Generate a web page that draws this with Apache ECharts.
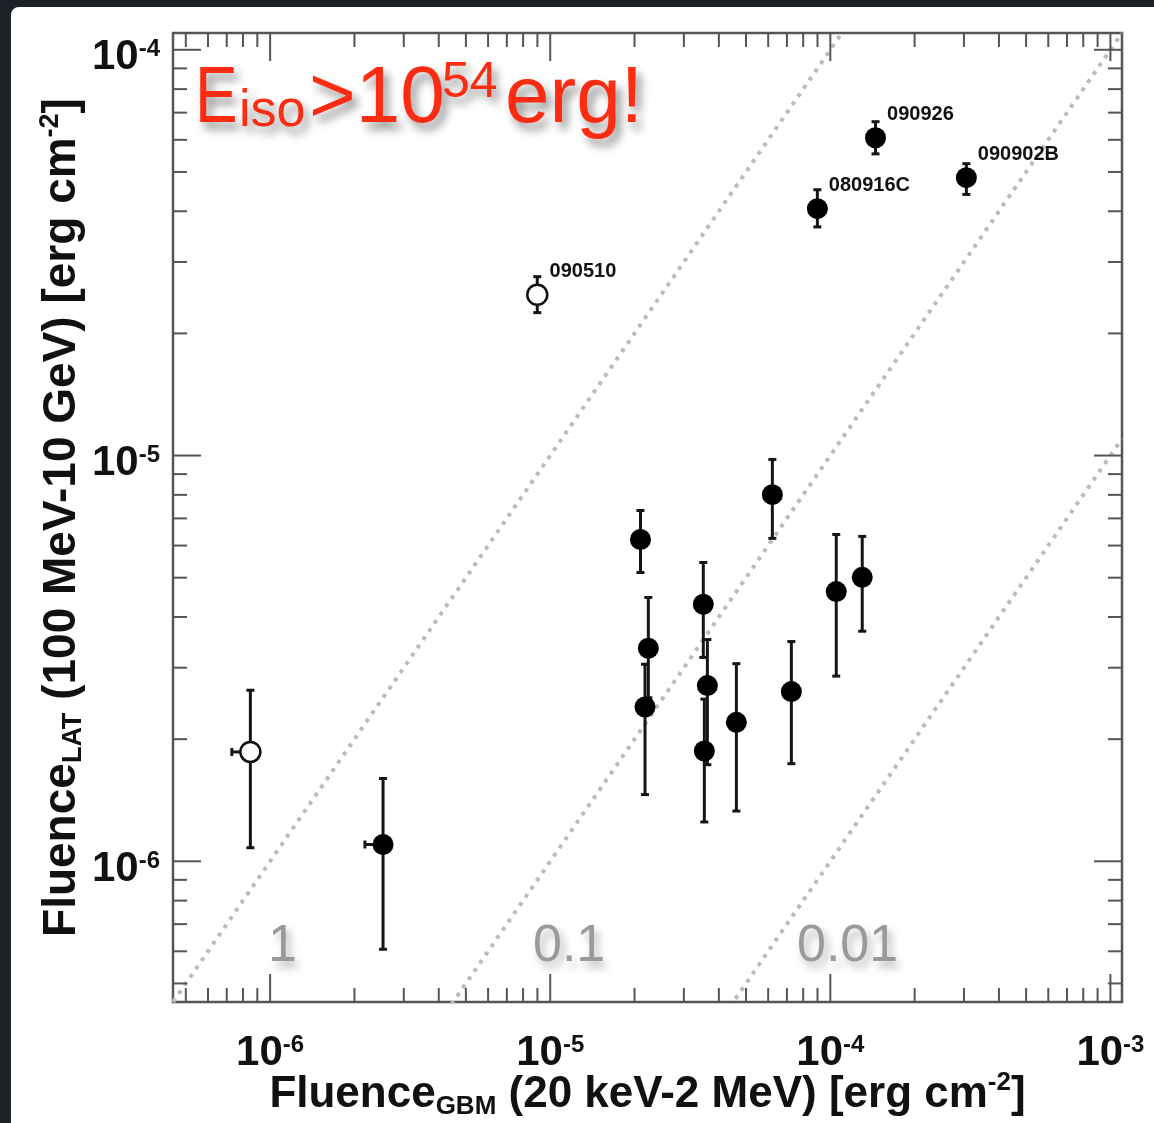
<!DOCTYPE html>
<html><head><meta charset="utf-8">
<script src="https://cdn.jsdelivr.net/npm/echarts@6/dist/echarts.min.js"></script>
<style>
html,body{margin:0;padding:0;width:1154px;height:1123px;overflow:hidden;background:#1d2228;}
#panel{position:absolute;left:11px;top:7px;width:1143px;height:1116px;background:#fff;border-top-left-radius:8px;}
#chart{position:absolute;left:0;top:0;width:1154px;height:1123px;}
</style></head><body>
<div id="panel"></div><div id="chart"></div>
<script>
// axis extents
const X_MIN = 4.5e-7, X_MAX = 1.1e-3, Y_MIN = 4.5e-7, Y_MAX = 1.1e-4;

// GRB data
const grbNames      = ['', '', '090510', '080916C', '090926', '090902B', '', '', '', '', '', '', '', '', '', '', ''];
const isShortGrb    = [true, false, true, false, false, false, false, false, false, false, false, false, false, false, false, false, false];
const gbmFluence    = [8.5e-7, 2.53e-6, 8.99e-6, 8.99e-5, 1.45e-4, 3.06e-4, 2.10e-5, 2.24e-5, 2.18e-5, 3.52e-5, 3.64e-5, 3.55e-5, 4.62e-5, 6.21e-5, 7.26e-5, 1.05e-4, 1.30e-4];
const gbmFluenceLow = [7.3e-7, 2.18e-6, null, null, null, null, null, null, null, null, null, null, null, null, null, null, null];
const latFluence    = [1.86e-6, 1.10e-6, 2.49e-5, 4.06e-5, 6.07e-5, 4.84e-5, 6.21e-6, 3.35e-6, 2.40e-6, 4.30e-6, 2.71e-6, 1.87e-6, 2.20e-6, 8.01e-6, 2.62e-6, 4.62e-6, 5.01e-6];
const latLow        = [1.08e-6, 6.07e-7, 2.25e-5, 3.66e-5, 5.54e-5, 4.40e-5, 5.15e-6, 2.53e-6, 1.46e-6, 3.18e-6, 1.73e-6, 1.25e-6, 1.33e-6, 6.25e-6, 1.74e-6, 2.86e-6, 3.69e-6];
const latHigh       = [2.64e-6, 1.60e-6, 2.76e-5, 4.52e-5, 6.65e-5, 5.24e-5, 7.32e-6, 4.47e-6, 3.06e-6, 5.45e-6, 3.52e-6, 2.51e-6, 3.07e-6, 9.78e-6, 3.48e-6, 6.39e-6, 6.32e-6];

// ratio lines LAT/GBM
const ratioValues = [1, 0.1, 0.01];
const ratioLabels = ['1', '0.1', '0.01'];

// ticks
const xMajorTicks = [1e-6, 1e-5, 1e-4, 1e-3];
const xMinorTicks = [5e-7, 6e-7, 7e-7, 8e-7, 9e-7,
  2e-6, 3e-6, 4e-6, 5e-6, 6e-6, 7e-6, 8e-6, 9e-6,
  2e-5, 3e-5, 4e-5, 5e-5, 6e-5, 7e-5, 8e-5, 9e-5,
  2e-4, 3e-4, 4e-4, 5e-4, 6e-4, 7e-4, 8e-4, 9e-4];
const yMajorTicks = [1e-6, 1e-5, 1e-4];
const yMinorTicks = [5e-7, 6e-7, 7e-7, 8e-7, 9e-7,
  2e-6, 3e-6, 4e-6, 5e-6, 6e-6, 7e-6, 8e-6, 9e-6,
  2e-5, 3e-5, 4e-5, 5e-5, 6e-5, 7e-5, 8e-5, 9e-5];

const FONT = "'Liberation Sans', Arial, Helvetica, sans-serif";
const TICK_COLOR = '#555';

function powLabel(v) {
  const l = Math.log10(v), e = Math.round(l);
  if (Math.abs(l - e) > 1e-6) return '';
  return '{b|10}{s|' + e + '}';
}
const tickRich = {
  b: {fontSize: 42, fontWeight: 'bold', lineHeight: 40, color: '#111', fontFamily: FONT},
  s: {fontSize: 24, fontWeight: 'bold', lineHeight: 12, verticalAlign: 'top', color: '#111', fontFamily: FONT}
};
function makeNameRich(size, small) {
  return {
    m: {fontSize: size, fontWeight: 'bold', lineHeight: 50, verticalAlign: 'middle', color: '#111', fontFamily: FONT},
    sb: {fontSize: small, fontWeight: 'bold', lineHeight: 10, verticalAlign: 'bottom', color: '#111', fontFamily: FONT},
    sp: {fontSize: small, fontWeight: 'bold', lineHeight: 30, verticalAlign: 'top', color: '#111', fontFamily: FONT}
  };
}

const filledData = [], openData = [], errData = [];
for (let i = 0; i < gbmFluence.length; i++) {
  const item = {name: grbNames[i], value: [gbmFluence[i], latFluence[i]]};
  (isShortGrb[i] ? openData : filledData).push(item);
  errData.push([gbmFluence[i], latFluence[i], latLow[i], latHigh[i], gbmFluenceLow[i] == null ? NaN : gbmFluenceLow[i]]);
}

const xTickData = xMajorTicks.map(v => [v, Y_MIN, 1]).concat(xMinorTicks.map(v => [v, Y_MIN, 0]));
const yTickData = yMajorTicks.map(v => [X_MIN, v, 1]).concat(yMinorTicks.map(v => [X_MIN, v, 0]));

const lineStyleTick = {stroke: TICK_COLOR, lineWidth: 2};
const errStyle = {stroke: '#151515', lineWidth: 3};

const ratioSeries = ratioValues.map(r => ({
  type: 'line', silent: true, symbol: 'none', z: 1,
  data: [[X_MIN, r * X_MIN], [X_MAX, r * X_MAX]],
  lineStyle: {color: '#bcbcbc', width: 4, type: [4, 6], cap: 'butt'}
}));

const labelStyle = {
  show: true, position: 'right', offset: [-4, -23],
  formatter: p => p.name, fontSize: 20, fontWeight: 'bold', color: '#111', fontFamily: FONT
};

const redStyle = {fontFamily: FONT, fill: '#fb2c12', verticalAlign: 'middle', textShadowColor: 'rgba(0,0,0,0.45)', textShadowBlur: 10, textShadowOffsetX: 5, textShadowOffsetY: 7};
const grayStyle = {fontSize: 52, fontFamily: FONT, fill: '#9a9a9a', verticalAlign: 'middle', textShadowColor: 'rgba(0,0,0,0.3)', textShadowBlur: 8, textShadowOffsetX: 4, textShadowOffsetY: 6};

const chart = echarts.init(document.getElementById('chart'));
chart.setOption({
  animation: false,
  backgroundColor: 'transparent',
  grid: {left: 173, top: 33, width: 949, height: 969, containLabel: false, outerBoundsMode: 'none',
         show: true, borderColor: '#555', borderWidth: 2.5, backgroundColor: 'transparent'},
  xAxis: {
    type: 'log', logBase: 10, min: X_MIN, max: X_MAX,
    axisLine: {show: false}, axisTick: {show: false}, splitLine: {show: false},
    axisLabel: {margin: 31, formatter: powLabel, rich: tickRich, showMinLabel: false, showMaxLabel: false},
    name: '{m|Fluence}{sb|GBM}{m| (20 keV-2 MeV) [erg cm}{sp|-2}{m|]}',
    nameLocation: 'middle', nameGap: 68, nameMoveOverlap: false,
    nameTextStyle: {rich: makeNameRich(44, 26)}
  },
  yAxis: {
    type: 'log', logBase: 10, min: Y_MIN, max: Y_MAX,
    axisLine: {show: false}, axisTick: {show: false}, splitLine: {show: false},
    axisLabel: {margin: 13, padding: [16, 0, 0, 0], formatter: powLabel, rich: tickRich, showMinLabel: false, showMaxLabel: false},
    name: '{m|Fluence}{sb|LAT}{m| (100 MeV-10 GeV) [erg cm}{sp|-2}{m|]}',
    nameLocation: 'middle', nameGap: 86, nameMoveOverlap: false,
    nameTextStyle: {rich: makeNameRich(46, 27)}
  },
  series: ratioSeries.concat([
    {
      type: 'custom', silent: true, z: 2, data: xTickData, encode: {x: 0, y: 1},
      renderItem: (params, api) => {
        const v = api.value(0), major = api.value(2) === 1, len = major ? 28 : 14;
        const p1 = api.coord([v, Y_MIN]), p2 = api.coord([v, Y_MAX]);
        return {type: 'group', children: [
          {type: 'line', shape: {x1: p1[0], y1: p1[1], x2: p1[0], y2: p1[1] - len}, style: lineStyleTick},
          {type: 'line', shape: {x1: p2[0], y1: p2[1], x2: p2[0], y2: p2[1] + len}, style: lineStyleTick}
        ]};
      }
    },
    {
      type: 'custom', silent: true, z: 2, data: yTickData, encode: {x: 0, y: 1},
      renderItem: (params, api) => {
        const v = api.value(1), major = api.value(2) === 1, len = major ? 28 : 14;
        const p1 = api.coord([X_MIN, v]), p2 = api.coord([X_MAX, v]);
        return {type: 'group', children: [
          {type: 'line', shape: {x1: p1[0], y1: p1[1], x2: p1[0] + len, y2: p1[1]}, style: lineStyleTick},
          {type: 'line', shape: {x1: p2[0], y1: p2[1], x2: p2[0] - len, y2: p2[1]}, style: lineStyleTick}
        ]};
      }
    },
    {
      type: 'custom', silent: true, z: 3, data: errData, encode: {x: 0, y: 1},
      renderItem: (params, api) => {
        const x = api.value(0), y = api.value(1), lo = api.value(2), hi = api.value(3), xlo = api.value(4);
        const pLo = api.coord([x, lo]), pHi = api.coord([x, hi]), c = 4;
        const ch = [
          {type: 'line', shape: {x1: pLo[0], y1: pLo[1], x2: pHi[0], y2: pHi[1]}, style: errStyle},
          {type: 'line', shape: {x1: pLo[0] - c, y1: pLo[1], x2: pLo[0] + c, y2: pLo[1]}, style: errStyle},
          {type: 'line', shape: {x1: pHi[0] - c, y1: pHi[1], x2: pHi[0] + c, y2: pHi[1]}, style: errStyle}
        ];
        if (xlo > 0) {
          const pc = api.coord([x, y]), pl = api.coord([xlo, y]);
          ch.push({type: 'line', shape: {x1: pl[0], y1: pl[1], x2: pc[0], y2: pc[1]}, style: errStyle});
          ch.push({type: 'line', shape: {x1: pl[0], y1: pl[1] - c, x2: pl[0], y2: pl[1] + c}, style: errStyle});
        }
        return {type: 'group', children: ch};
      }
    },
    {
      type: 'scatter', z: 4, symbol: 'circle', symbolSize: 21, data: filledData,
      itemStyle: {color: '#000', opacity: 1}, label: labelStyle
    },
    {
      type: 'scatter', z: 4, symbol: 'circle', symbolSize: 20, data: openData,
      itemStyle: {color: '#fff', borderColor: '#111', borderWidth: 2.5, opacity: 1}, label: labelStyle
    }
  ]),
  graphic: [
    {type: 'text', z: 10, x: 195, y: 100, scaleX: 0.8, style: Object.assign({text: 'E', fontSize: 80}, redStyle)},
    {type: 'text', z: 10, x: 239, y: 112, style: Object.assign({text: 'iso', fontSize: 52}, redStyle)},
    {type: 'text', z: 10, x: 309, y: 100, style: Object.assign({text: '>10', fontSize: 80}, redStyle)},
    {type: 'text', z: 10, x: 442, y: 83, style: Object.assign({text: '54', fontSize: 50}, redStyle)},
    {type: 'text', z: 10, x: 505, y: 100, style: Object.assign({text: 'erg!', fontSize: 80}, redStyle)},
    {type: 'text', z: 10, x: 268, y: 947, style: Object.assign({text: ratioLabels[0]}, grayStyle)},
    {type: 'text', z: 10, x: 533, y: 947, style: Object.assign({text: ratioLabels[1]}, grayStyle)},
    {type: 'text', z: 10, x: 797, y: 947, style: Object.assign({text: ratioLabels[2]}, grayStyle)}
  ]
});
</script>
</body></html>
